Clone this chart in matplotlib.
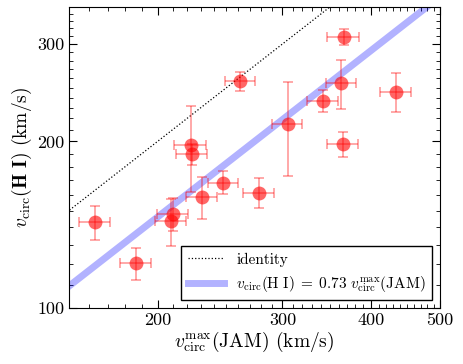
import numpy as np
import matplotlib
matplotlib.use('Agg')
import matplotlib.pyplot as plt
from matplotlib.ticker import FixedLocator, NullFormatter, FixedFormatter

plt.rcParams['font.family'] = 'serif'
plt.rcParams['font.serif'] = ['cmr10']
plt.rcParams['mathtext.fontset'] = 'cm'
plt.rcParams['axes.unicode_minus'] = False

# values
v_jam = [366, 261.6, 363, 434, 342, 305, 365, 222.6, 223.5, 247.6, 277.7, 230.9, 210, 209, 163.2, 186.6]
v_jam_err = [19, 13, 17.5, 22, 17, 15, 18, 11.5, 11.5, 12, 14, 11.5, 10.5, 10.5, 8, 9.3]
v_hi = [309, 257, 255, 245.7, 236.7, 214.8, 197.6, 197, 189.6, 168.5, 161.6, 158.5, 147.7, 143.6, 142.9, 120.4]
v_hi_err = [10, 10, 26, 20, 10.5, 41.5, 10, 35, 8, 8, 10, 14, 10, 14, 10, 8]

ratio = 0.73
x_ticks = [200, 300, 400, 500]
y_ticks = [100, 200, 300]

fig = plt.figure(figsize=(4.63, 3.64), dpi=100)
ax = fig.add_axes([0.149, 0.154, 0.801, 0.827])

xx = np.array([100, 600])
ax.plot(xx, xx, 'k:', lw=0.9, label='identity')
ax.plot(xx, ratio * xx, color='blue', alpha=0.3, lw=5,
        label=r'$v_{\rm circ}({\rm H\ I})\;=\;%.2f\ v_{\rm circ}^{\rm max}({\rm JAM})$' % ratio)

ax.errorbar(v_jam, v_hi, xerr=v_jam_err, yerr=v_hi_err, fmt='none',
            ecolor='red', alpha=0.4, elinewidth=1.2, capsize=3.5, capthick=1.2)
ax.plot(v_jam, v_hi, 'o', color='red', alpha=0.6, ms=10, mec='none')

ax.set_xscale('log')
ax.set_yscale('log')
ax.set_xlim(150, 500)
ax.set_ylim(100, 350)

ax.xaxis.set_major_locator(FixedLocator(x_ticks))
ax.xaxis.set_major_formatter(FixedFormatter([str(t) for t in x_ticks]))
ax.xaxis.set_minor_locator(FixedLocator(np.arange(150, 501, 10)))
ax.xaxis.set_minor_formatter(NullFormatter())
ax.yaxis.set_major_locator(FixedLocator(y_ticks))
ax.yaxis.set_major_formatter(FixedFormatter([str(t) for t in y_ticks]))
ax.yaxis.set_minor_locator(FixedLocator(np.arange(100, 351, 10)))
ax.yaxis.set_minor_formatter(NullFormatter())

ax.tick_params(which='both', direction='in', top=True, right=True, labelsize=13)
ax.tick_params(which='major', length=6)
ax.tick_params(which='minor', length=3)

ax.set_xlabel(r'$v_{\rm circ}^{\rm max}({\rm JAM})$ (km/s)', fontsize=14, labelpad=1)
ax.set_ylabel(r'$v_{\rm circ}(\mathbf{H\ I})$ (km/s)', fontsize=14, labelpad=2)

leg = ax.legend(loc='lower right', fontsize=11, fancybox=False, framealpha=1,
                borderaxespad=0.5, handlelength=2.4)
leg.get_frame().set_edgecolor('black')

fig.savefig('out.png', dpi=100)
